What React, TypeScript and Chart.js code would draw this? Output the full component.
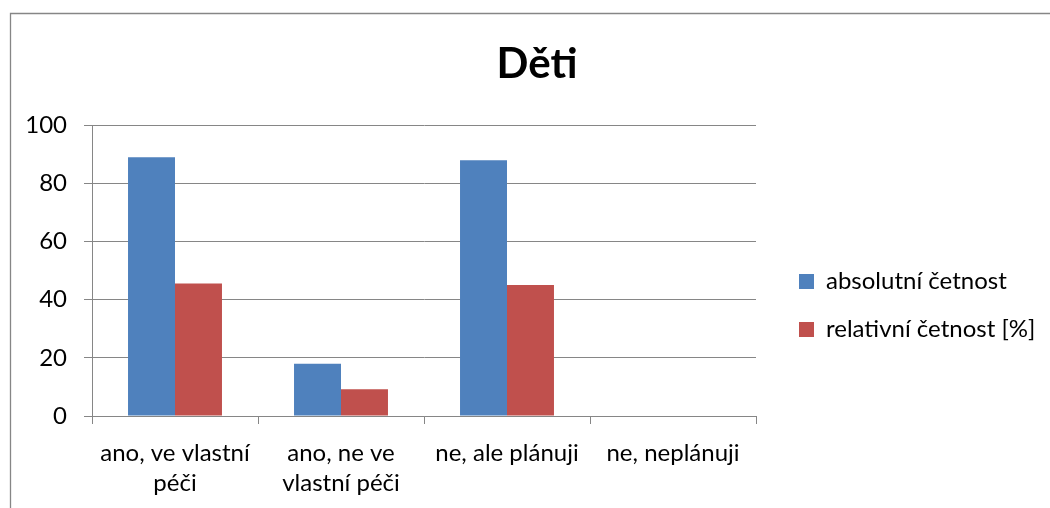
import React, { useEffect, useRef } from "react";
import { Chart, registerables } from "chart.js";

Chart.register(...registerables);

const titleText = "Děti";
const categories: (string | string[])[] = [
  ["ano, ve vlastní", "péči"],
  ["ano, ne ve", "vlastní péči"],
  "ne, ale plánuji",
  "ne, neplánuji",
];
const absoluteLabel = "absolutní četnost";
const relativeLabel = "relativní četnost [%]";
const absoluteCounts = [89, 18, 88, 0];
const relativeCounts = [45.6, 9.2, 45.1, 0];
const yMin = 0;
const yMax = 100;
const yStep = 20;

const W = 1050;
const H = 508;
const FONT = "Lato, 'Open Sans', sans-serif";

const framePlugin = {
  id: "frame",
  beforeDraw(chart: any) {
    const ctx = chart.ctx;
    ctx.save();
    ctx.fillStyle = "#ffffff";
    ctx.fillRect(0, 0, chart.width, chart.height);
    ctx.strokeStyle = "#868686";
    ctx.lineWidth = 1.3;
    ctx.beginPath();
    ctx.moveTo(10.5, chart.height);
    ctx.lineTo(10.5, 13.5);
    ctx.lineTo(chart.width, 13.5);
    ctx.stroke();
    ctx.restore();
  },
};

export default function App() {
  const ref = useRef<HTMLCanvasElement | null>(null);

  useEffect(() => {
    if (!ref.current) return;
    const chart = new Chart(ref.current, {
      type: "bar",
      data: {
        labels: categories,
        datasets: [
          {
            label: absoluteLabel,
            data: absoluteCounts,
            backgroundColor: "#4F81BD",
            borderWidth: 0,
            categoryPercentage: 0.566,
            barPercentage: 1,
            xAxisID: "x",
            yAxisID: "y",
          },
          {
            label: relativeLabel,
            data: relativeCounts,
            backgroundColor: "#C0504D",
            borderWidth: 0,
            categoryPercentage: 0.566,
            barPercentage: 1,
            xAxisID: "x",
            yAxisID: "y",
          },
        ],
      },
      options: {
        responsive: false,
        animation: false,
        events: [],
        layout: { padding: { left: 26, right: 2, top: 0, bottom: 0 } },
        plugins: {
          tooltip: { enabled: false },
          title: {
            display: true,
            text: titleText,
            color: "#000",
            font: { family: FONT, size: 42, weight: "bold", lineHeight: 1.2 },
            padding: { top: 39, bottom: 36 },
          },
          legend: {
            position: "right",
            maxWidth: 400,
            title: {
              display: true,
              text: "",
              font: { family: FONT, size: 10, lineHeight: 1 },
              padding: { top: 0, bottom: 93 },
            },
            labels: {
              color: "#000",
              boxWidth: 15,
              boxHeight: 15,
              padding: 24,
              font: { family: FONT, size: 24 },
            },
          },
        },
        scales: {
          x: {
            grid: {
              display: true,
              drawOnChartArea: false,
              drawTicks: true,
              tickLength: 8,
              color: "#868686",
              offset: true,
            },
            border: { display: true, color: "#868686" },
            ticks: {
              color: "#000",
              padding: 14,
              maxRotation: 0,
              autoSkip: false,
              font: { family: FONT, size: 24, lineHeight: 1.25 },
            },
            afterFit(scale: any) {
              scale.height = 92;
            },
          },
          y: {
            min: yMin,
            max: yMax,
            grid: { color: "#868686", tickLength: 8 },
            border: { display: true, color: "#868686" },
            ticks: {
              stepSize: yStep,
              color: "#000",
              padding: 17,
              font: { family: FONT, size: 24 },
            },
            afterFit(scale: any) {
              scale.width = 66;
            },
          },
          gap: {
            type: "linear",
            position: "right",
            display: true,
            weight: 0,
            grid: { display: false, drawTicks: false },
            border: { display: false },
            ticks: { display: false },
            afterFit(scale: any) {
              scale.width = 19;
            },
          },
          edge: {
            type: "linear",
            position: "right",
            display: true,
            weight: 2000,
            grid: { display: false, drawTicks: false },
            border: { display: false },
            ticks: { display: false },
            afterFit(scale: any) {
              const lg = scale.chart.legend;
              const lw = lg && lg.width ? lg.width : 260;
              scale.width = Math.max(0, 273 - lw);
            },
          },
        },
      },
      plugins: [framePlugin],
    } as any);
    return () => chart.destroy();
  }, []);

  return (
    <div style={{ position: "absolute", left: 0, top: 0, width: W, height: H, background: "#fff" }}>
      <canvas ref={ref} width={W} height={H} style={{ display: "block" }} />
    </div>
  );
}
